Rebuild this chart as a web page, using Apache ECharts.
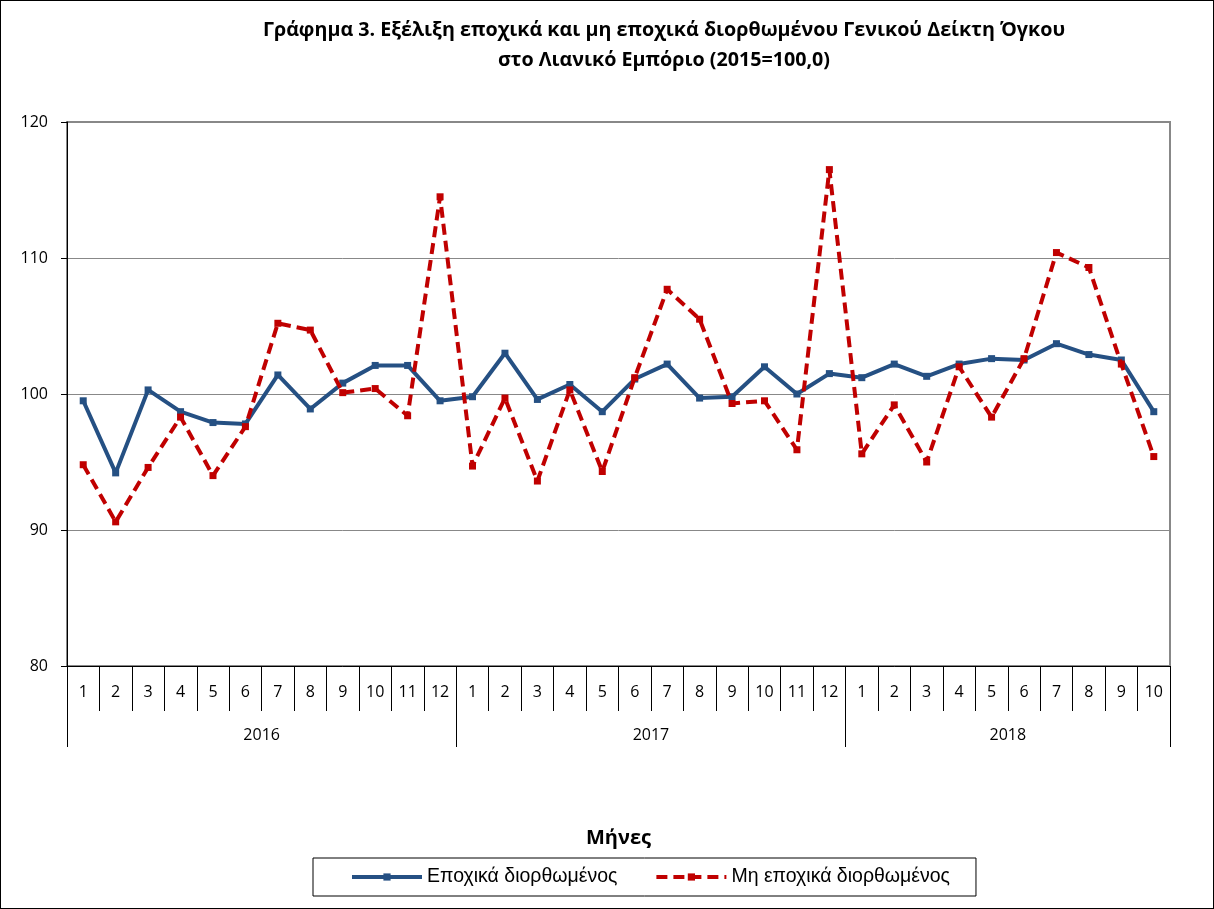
<!DOCTYPE html>
<html>
<head>
<meta charset="utf-8">
<script src="https://cdn.jsdelivr.net/npm/echarts@6/dist/echarts.min.js"></script>
<style>
html,body{margin:0;padding:0;background:#fff;}
#wrap{width:1214px;height:909px;box-sizing:border-box;border:1px solid #000;}
#c{width:1212px;height:907px;}
</style>
</head>
<body>
<div id="wrap"><div id="c"></div></div>
<script>
const months = ['1','2','3','4','5','6','7','8','9','10','11','12',
                '1','2','3','4','5','6','7','8','9','10','11','12',
                '1','2','3','4','5','6','7','8','9','10'];
const years = ['2016','2017','2018'];
const monthsPerYear = [12,12,10];
const seasonallyAdjusted = [
  99.5, 94.2, 100.3, 98.7, 97.9, 97.8, 101.4, 98.9, 100.8, 102.1, 102.1, 99.5,
  99.8, 103.0, 99.6, 100.7, 98.7, 101.1, 102.2, 99.7, 99.8, 102.0, 100.0, 101.5,
  101.2, 102.2, 101.3, 102.2, 102.6, 102.5, 103.7, 102.9, 102.5, 98.7
];
const notSeasonallyAdjusted = [
  94.8, 90.6, 94.6, 98.3, 94.0, 97.6, 105.2, 104.7, 100.1, 100.4, 98.4, 114.5,
  94.7, 99.7, 93.6, 100.3, 94.3, 101.2, 107.7, 105.5, 99.3, 99.5, 95.9, 116.5,
  95.6, 99.2, 95.0, 102.0, 98.3, 102.6, 110.4, 109.3, 102.2, 95.4
];
const seriesNames = ['Εποχικά διορθωμένος', 'Μη εποχικά διορθωμένος'];
const yTicks = {min: 80, max: 120, interval: 10};

// year boundaries and centers (in category units)
const yearBounds = [0];
monthsPerYear.forEach(n => yearBounds.push(yearBounds[yearBounds.length-1] + n));
const yearCenters = years.map((y,i) => (yearBounds[i] + yearBounds[i+1]) / 2);

const TFONT = 'Open Sans';
const LFONT = 'Liberation Sans';
const chart = echarts.init(document.getElementById('c'));
chart.setOption({
  animation: false,
  title: {
    text: 'Γράφημα 3. Εξέλιξη εποχικά και μη εποχικά διορθωμένου Γενικού Δείκτη Όγκου\nστο Λιανικό Εμπόριο (2015=100,0)',
    left: 658, top: 9, textAlign: 'center',
    textStyle: {fontFamily: TFONT, fontSize: 19.7, fontWeight: 'bold', color: '#000', lineHeight: 30}
  },
  legend: {
    left: 312, top: 857,
    borderColor: '#000', borderWidth: 1,
    padding: [9, 26, 9, 37],
    itemWidth: 70, itemHeight: 9, itemGap: 37,
    lineStyle: {width: 4},
    textStyle: {fontFamily: LFONT, fontSize: 19.5, color: '#000'},
    data: seriesNames
  },
  grid: {
    left: 66, right: 43, top: 121, bottom: 242,
    show: true, borderColor: '#888', borderWidth: 2, backgroundColor: '#fff'
  },
  xAxis: [{
    type: 'category', data: months, boundaryGap: true,
    name: 'Μήνες', nameLocation: 'middle', nameGap: 162,
    nameTextStyle: {fontFamily: TFONT, fontSize: 20, fontWeight: 'bold', color: '#000'},
    axisLine: {lineStyle: {color: '#000', width: 1}},
    axisTick: {show: true, interval: 0, length: 45, lineStyle: {color: '#000'}},
    axisLabel: {interval: 0, margin: 18, fontFamily: TFONT, fontSize: 16, color: '#000'},
    splitLine: {show: false}
  }, {
    type: 'value', position: 'bottom', min: 0, max: months.length,
    axisLine: {show: false},
    axisTick: {show: true, customValues: yearBounds, length: 81, lineStyle: {color: '#000'}},
    axisLabel: {customValues: yearCenters, margin: 61, fontFamily: TFONT, fontSize: 16, color: '#000',
      formatter: v => years[yearCenters.indexOf(v)] || ''},
    splitLine: {show: false}
  }],
  yAxis: {
    type: 'value', min: yTicks.min, max: yTicks.max, interval: yTicks.interval,
    axisLine: {show: true, lineStyle: {color: '#000', width: 1}},
    axisTick: {show: true, length: 6, lineStyle: {color: '#000'}},
    axisLabel: {margin: 19, fontFamily: TFONT, fontSize: 16, color: '#000'},
    splitLine: {lineStyle: {color: '#888', width: 1}}
  },
  series: [{
    name: seriesNames[0], type: 'line', xAxisIndex: 0, data: seasonallyAdjusted,
    symbol: 'rect', symbolSize: 7, showSymbol: true,
    lineStyle: {color: '#255083', width: 4},
    itemStyle: {color: '#255083'}, z: 3
  }, {
    name: seriesNames[1], type: 'line', xAxisIndex: 0, data: notSeasonallyAdjusted,
    symbol: 'rect', symbolSize: 7, showSymbol: true,
    lineStyle: {color: '#C00000', width: 4, type: [11, 6]},
    itemStyle: {color: '#C00000'}, z: 4
  }]
});
</script>
</body>
</html>
